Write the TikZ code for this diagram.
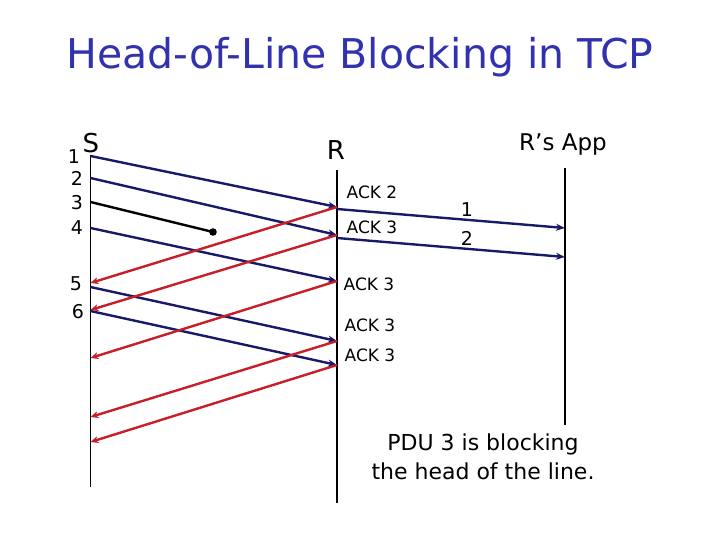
\documentclass[tikz,border=0pt]{standalone}
\usepackage{fontspec}
\setmainfont{DejaVu Sans}
\usetikzlibrary{arrows.meta}
\definecolor{navy}{RGB}{25,25,105}
\definecolor{ackred}{RGB}{200,30,40}
\definecolor{titleblue}{RGB}{50,50,175}
\tikzset{
  life/.style={line width=1.4pt,black},
  data/.style={line width=2.4pt,navy,-{Stealth[length=9pt,width=7pt]}},
  ack/.style={line width=2.4pt,ackred,-{Stealth[length=8pt,width=7pt]}},
  lbl/.style={inner sep=0pt,font=\fontsize{17}{19}\selectfont},
  num/.style={inner sep=0pt,font=\fontsize{19}{21}\selectfont},
  big/.style={inner sep=0pt,font=\fontsize{26}{29}\selectfont}
}
\begin{document}
\begin{tikzpicture}[x=1pt,y=-1pt]
\useasboundingbox (0,0) rectangle (720,540);
% title
\node[inner sep=0pt,titleblue,font=\fontsize{41}{45}\selectfont] (title) at (360,57) {Head-of-Line Blocking in TCP};
% lifeline labels
\node[big] (S) at (91,143) {S};
\node[big] (R) at (336,150) {R};
\node[inner sep=0pt,font=\fontsize{23}{26}\selectfont] (app) at (563,145) {R’s App};
% lifelines
\coordinate (sTop) at (90.5,155); \coordinate (sBot) at (90.5,487);
\coordinate (rTop) at (337,170); \coordinate (rBot) at (337,503);
\coordinate (aTop) at (565,168); \coordinate (aBot) at (565,425);
\draw[life] (sTop) -- (sBot);
\draw[life] (rTop) -- (rBot);
\draw[life] (aTop) -- (aBot);
% sender side points
\coordinate (s1) at (90.5,156);
\coordinate (s2) at (90.5,178);
\coordinate (s3) at (90.5,202);
\coordinate (s4) at (90.5,228);
\coordinate (s5) at (90.5,287);
\coordinate (s6) at (90.5,311);
\coordinate (lost) at (213,232);
% receiver side points
\coordinate (r1) at (337,207);
\coordinate (r2) at (337,235);
\coordinate (r4) at (337,281);
\coordinate (r5) at (337,341);
\coordinate (r6) at (337,365);
% ack arrival points at S
\coordinate (k1) at (90.5,283);
\coordinate (k2) at (90.5,310);
\coordinate (k3) at (90.5,358);
\coordinate (k4) at (90.5,417);
\coordinate (k5) at (90.5,442);
% app delivery
\coordinate (d1s) at (337,209); \coordinate (d1e) at (565,228);
\coordinate (d2s) at (337,238); \coordinate (d2e) at (565,257);
% segment numbers
\node[num] (n1) at (74,157) {1};
\node[num] (n2) at (77,178) {2};
\node[num] (n3) at (77,203) {3};
\node[num] (n4) at (77,228) {4};
\node[num] (n5) at (76,284) {5};
\node[num] (n6) at (78,312) {6};
% data segments
\draw[data] (s1) -- (r1);
\draw[data] (s2) -- (r2);
\draw[line width=2.4pt,black] (s3) -- (lost);
\fill[black] (lost) circle (3.8);
\draw[data] (s4) -- (r4);
\draw[data] (s5) -- (r5);
\draw[data] (s6) -- (r6);
% acks
\draw[ack] (r1) -- (k1);
\draw[ack] (r2) -- (k2);
\draw[ack] (r4) -- (k3);
\draw[ack] (r5) -- (k4);
\draw[ack] (r6) -- (k5);
% deliveries
\draw[data] (d1s) -- (d1e);
\draw[data] (d2s) -- (d2e);
\node[num] (p1) at (467,210) {1};
\node[num] (p2) at (467,238) {2};
% ack labels
\node[lbl] (a1) at (372,192) {ACK 2};
\node[lbl] (a2) at (372,227) {ACK 3};
\node[lbl] (a3) at (369,284) {ACK 3};
\node[lbl] (a4) at (370,325) {ACK 3};
\node[lbl] (a5) at (370,355) {ACK 3};
% note
\node[inner sep=0pt,align=center,font=\fontsize{22}{29}\selectfont] (note) at (483,457) {PDU 3 is blocking\\the head of the line.};
\end{tikzpicture}
\end{document}
